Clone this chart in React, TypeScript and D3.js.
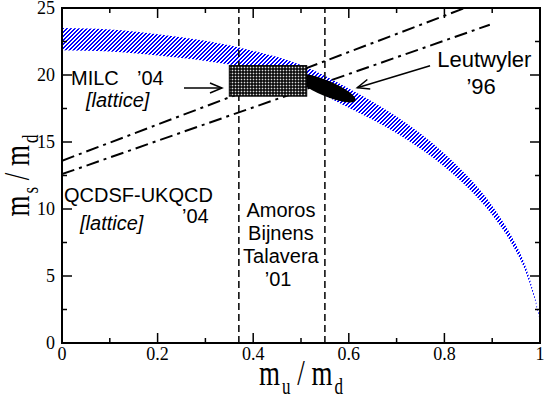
import React from "react";
import * as d3 from "d3";

// ---- data ----
const xTicksMajor = [0, 0.2, 0.4, 0.6, 0.8, 1];
const xTickLabels = ["0", "0.2", "0.4", "0.6", "0.8", "1"];
const xTicksMinor = [0.1, 0.3, 0.5, 0.7, 0.9];
const yTicksMajor = [0, 5, 10, 15, 20, 25];
const yTickLabels = ["0", "5", "10", "15", "20", "25"];
const yTicksMinor = [2.5, 7.5, 12.5, 17.5, 22.5];

// hatched band (m_s/m_d edges vs m_u/m_d)
const bandX = [0, 0.1, 0.2, 0.3, 0.4, 0.5, 0.6, 0.7, 0.8, 0.85, 0.9, 0.94, 0.97, 0.99, 1.0];
const bandUpper = [23.5, 23.4, 23.05, 22.55, 21.8, 20.75, 19.0, 16.9, 14.15, 12.4, 10.25, 8.0, 5.7, 3.3, 1.8];
const bandLower = [21.85, 21.75, 21.45, 21.05, 20.45, 19.3, 17.55, 15.65, 13.15, 11.55, 9.55, 7.45, 5.3, 3.1, 1.6];

// Amoros-Bijnens-Talavera bounds
const abtBounds = [0.37, 0.55];

// dash-dot lines: [x0, y0, x1, y1]
const dashDotUpper = [0, 13.6, 0.843, 25];
const dashDotLower = [0, 12.6, 0.895, 23.75];

// MILC box
const milcX = [0.35, 0.512];
const milcY = [18.42, 20.7];

// Leutwyler ellipse: major-axis ends and half-width (in m_s/m_d units)
const leutEnds = [[0.49, 19.95], [0.614, 18.1]];
const leutHalfWidth = 0.58;

// annotation arrows: [tailX, tailY, tipX, tipY]
const milcArrow = [0.2552, 19.03, 0.3347, 19.03];
const leutArrow = [0.770, 20.69, 0.6178, 19.05];

const W = 545;
const H = 399;

export default function App() {
  React.useEffect(() => {
    document.body.style.margin = "0";
  }, []);

  const x = d3.scaleLinear().domain([0, 1]).range([62, 540]);
  const y = d3.scaleLinear().domain([0, 25]).range([343, 8]);

  const bandData = bandX.map((v, i) => ({ x: v, u: bandUpper[i], l: bandLower[i] }));
  const area = d3
    .area<{ x: number; u: number; l: number }>()
    .x((d) => x(d.x))
    .y0((d) => y(d.l))
    .y1((d) => y(d.u))
    .curve(d3.curveMonotoneX);

  // ellipse geometry
  const ex0 = x(leutEnds[0][0]), ey0 = y(leutEnds[0][1]);
  const ex1 = x(leutEnds[1][0]), ey1 = y(leutEnds[1][1]);
  const ecx = (ex0 + ex1) / 2, ecy = (ey0 + ey1) / 2;
  const erx = Math.hypot(ex1 - ex0, ey1 - ey0) / 2;
  const ery = Math.abs(y(0) - y(leutHalfWidth));
  const eang = (Math.atan2(ey1 - ey0, ex1 - ex0) * 180) / Math.PI;

  const arrow = (a: number[], key: string) => {
    const x0 = x(a[0]), y0 = y(a[1]), x1 = x(a[2]), y1 = y(a[3]);
    const ang = Math.atan2(y1 - y0, x1 - x0);
    const len = 12, hw = 5;
    const bx = x1 - len * Math.cos(ang), by = y1 - len * Math.sin(ang);
    const px = -Math.sin(ang) * hw, py = Math.cos(ang) * hw;
    return (
      <g key={key} stroke="#000" strokeWidth={1.5} fill="none">
        <line x1={x0} y1={y0} x2={x1} y2={y1} />
        <polyline points={`${bx + px},${by + py} ${x1},${y1} ${bx - px},${by - py}`} />
      </g>
    );
  };

  const sans = "'Liberation Sans', Arial, sans-serif";
  const serif = "'Liberation Serif', 'Times New Roman', serif";

  // crisp pixel hatch: 4x4 cell, two blue pixels per row shifted each row ("/" stripes)
  const hatchCells = [
    [2, 0], [3, 0],
    [1, 1], [2, 1],
    [0, 2], [1, 2],
    [3, 3], [0, 3],
  ];

  return (
    <svg width={W} height={H} style={{ display: "block" }} xmlns="http://www.w3.org/2000/svg">
      <defs>
        <pattern id="hatch" width="4" height="4" patternUnits="userSpaceOnUse">
          {hatchCells.map((c, i) => (
            <rect key={i} x={c[0]} y={c[1]} width={1} height={1} fill="#0000ff" shapeRendering="crispEdges" />
          ))}
        </pattern>
        <pattern id="mesh" width="3" height="3" patternUnits="userSpaceOnUse">
          <rect width="3" height="3" fill="#111" />
          <rect x="1" y="0" width="1" height="3" fill="#444" />
          <rect x="0" y="1" width="3" height="1" fill="#444" />
          <rect x="1" y="1" width="1" height="1" fill="#ddd" />
        </pattern>
        <clipPath id="plot">
          <rect x={x(0)} y={y(25)} width={x(1) - x(0)} height={y(0) - y(25)} />
        </clipPath>
      </defs>
      <rect width={W} height={H} fill="#fff" />

      <g clipPath="url(#plot)">
        <path d={area(bandData) || ""} fill="url(#hatch)" />

        {abtBounds.map((b, i) => (
          <line key={i} x1={x(b)} x2={x(b)} y1={y(0)} y2={y(25)} stroke="#000" strokeWidth={1.5} strokeDasharray="7,4" />
        ))}

        {[dashDotUpper, dashDotLower].map((l, i) => (
          <line key={i} x1={x(l[0])} y1={y(l[1])} x2={x(l[2])} y2={y(l[3])} stroke="#000" strokeWidth={2} strokeDasharray="13,5,3,5" />
        ))}

        <ellipse cx={ecx} cy={ecy} rx={erx} ry={ery} transform={`rotate(${eang},${ecx},${ecy})`} fill="#000" />

        <rect
          x={x(milcX[0])}
          y={y(milcY[1])}
          width={x(milcX[1]) - x(milcX[0])}
          height={y(milcY[0]) - y(milcY[1])}
          fill="url(#mesh)"
          stroke="#000"
          strokeWidth={1}
        />
      </g>

      {/* ticks */}
      <g stroke="#000" strokeWidth={1.5}>
        {xTicksMajor.map((t, i) => (
          <g key={"xM" + i}>
            <line x1={x(t)} x2={x(t)} y1={y(0)} y2={y(0) - 10} />
            <line x1={x(t)} x2={x(t)} y1={y(25)} y2={y(25) + 10} />
          </g>
        ))}
        {xTicksMinor.map((t, i) => (
          <g key={"xm" + i}>
            <line x1={x(t)} x2={x(t)} y1={y(0)} y2={y(0) - 5} />
            <line x1={x(t)} x2={x(t)} y1={y(25)} y2={y(25) + 5} />
          </g>
        ))}
        {yTicksMajor.map((t, i) => (
          <g key={"yM" + i}>
            <line x1={x(0)} x2={x(0) + 10} y1={y(t)} y2={y(t)} />
            <line x1={x(1)} x2={x(1) - 10} y1={y(t)} y2={y(t)} />
          </g>
        ))}
        {yTicksMinor.map((t, i) => (
          <g key={"ym" + i}>
            <line x1={x(0)} x2={x(0) + 5} y1={y(t)} y2={y(t)} />
            <line x1={x(1)} x2={x(1) - 5} y1={y(t)} y2={y(t)} />
          </g>
        ))}
      </g>
      <rect x={x(0)} y={y(25)} width={x(1) - x(0)} height={y(0) - y(25)} fill="none" stroke="#000" strokeWidth={2} />

      {/* tick labels */}
      <g fontFamily={serif} fontSize={18} fill="#000">
        {xTicksMajor.map((t, i) => (
          <text key={i} x={x(t)} y={y(0) + 17} textAnchor="middle">
            {xTickLabels[i]}
          </text>
        ))}
        {yTicksMajor.map((t, i) => (
          <text key={i} x={x(0) - 7} y={y(t) + 6} textAnchor="end">
            {yTickLabels[i]}
          </text>
        ))}
      </g>

      {/* axis titles */}
      <g fontFamily={serif} fill="#000">
        <g transform={`translate(${(x(0) + x(1)) / 2},385) scale(1,1.3)`}>
          <text textAnchor="middle" fontSize={27} xmlSpace="preserve">
            m<tspan fontSize={17} dx={2} dy={7}>u</tspan>
            <tspan dy={-7}> / m</tspan>
            <tspan fontSize={17} dx={2} dy={7}>d</tspan>
          </text>
        </g>
        <g transform={`translate(29,${(y(0) + y(25)) / 2}) rotate(-90) scale(1,1.3)`}>
          <text textAnchor="middle" fontSize={27} xmlSpace="preserve">
            m<tspan fontSize={17} dx={2} dy={7}>s</tspan>
            <tspan dy={-7}> / m</tspan>
            <tspan fontSize={17} dx={2} dy={7}>d</tspan>
          </text>
        </g>
      </g>

      {/* annotations */}
      <g fontFamily={sans} fill="#000" fontSize={20}>
        <text x={x(0.0188)} y={y(19.25)}>MILC</text>
        <text x={x(0.157)} y={y(19.25)}>’04</text>
        <text x={x(0.0502)} y={y(17.61)} fontStyle="italic">[lattice]</text>

        <text x={x(0.0042)} y={y(10.52)}>QCDSF-UKQCD</text>
        <text x={x(0.251)} y={y(8.96)}>’04</text>
        <text x={x(0.0377)} y={y(8.43)} fontStyle="italic">[lattice]</text>

        <text x={x(0.458)} y={y(9.4)} textAnchor="middle">Amoros</text>
        <text x={x(0.458)} y={y(7.69)} textAnchor="middle">Bijnens</text>
        <text x={x(0.458)} y={y(5.97)} textAnchor="middle">Talavera</text>
        <text x={x(0.452)} y={y(4.25)} textAnchor="middle">’01</text>

        <text x={x(0.785)} y={y(20.6)} fontSize={22}>Leutwyler</text>
        <text x={x(0.846)} y={y(18.58)} fontSize={22}>’96</text>
      </g>

      {arrow(milcArrow, "a1")}
      {arrow(leutArrow, "a2")}
    </svg>
  );
}
